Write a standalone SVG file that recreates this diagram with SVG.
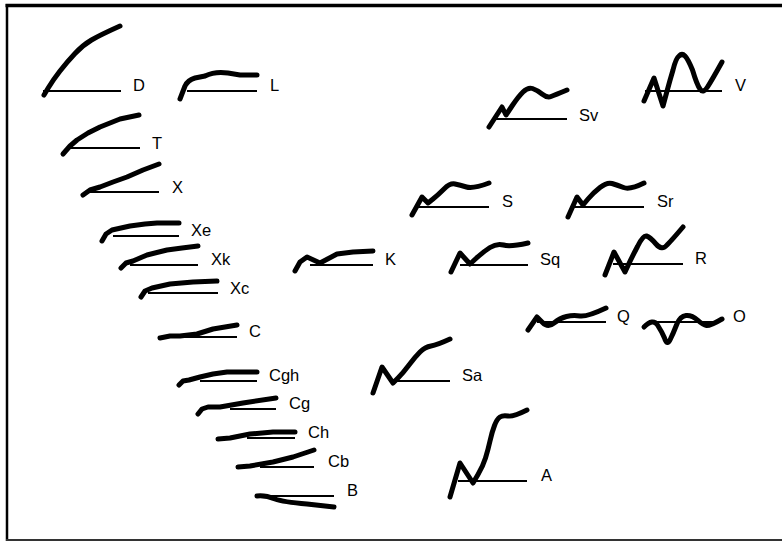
<svg xmlns="http://www.w3.org/2000/svg" width="782" height="541" viewBox="0 0 782 541">
<style>
.base{stroke:#000;stroke-width:2;fill:none}
.spec{stroke:#000;stroke-width:5;fill:none;stroke-linejoin:round;stroke-linecap:round}
.lbl{font-family:"Liberation Sans",Arial,sans-serif;font-size:16.5px;fill:#000}
</style>
<rect x="0" y="0" width="782" height="541" fill="#fff"/>
<g id="frame">
<line x1="5.5" y1="5.5" x2="782" y2="5.5" stroke="#000" stroke-width="3.5"/>
<line x1="7" y1="4" x2="7" y2="541" stroke="#000" stroke-width="2.5"/>
<line x1="6" y1="540" x2="782" y2="540" stroke="#333" stroke-width="2"/>
</g>
<g id="D"><line class="base" x1="43" y1="91" x2="121" y2="91"/><path class="spec" d="M44,95 L48.5,87.5 Q53,80 60,71 Q67,62 75,53.5 Q83,45 91.5,40 Q100,35 120,26"/><text class="lbl" x="133" y="91">D</text></g>
<g id="L"><line class="base" x1="187" y1="91" x2="257" y2="91"/><path class="spec" d="M180,99 L185,86 Q188,80 195,78 L205,76 Q215,71 228,73 L240,75 L257,75"/><text class="lbl" x="270" y="91">L</text></g>
<g id="T"><line class="base" x1="68" y1="148" x2="140" y2="148"/><polyline class="spec" points="63,154 70,146 77,140 88,133 100,127 120,119 139,115"/><text class="lbl" x="152" y="149">T</text></g>
<g id="X"><line class="base" x1="88" y1="192" x2="159" y2="192"/><polyline class="spec" points="83,195 90,190 100,187 113,182 127,177 143,170 159,164"/><text class="lbl" x="172" y="193">X</text></g>
<g id="Xe"><line class="base" x1="113" y1="236" x2="179" y2="236"/><polyline class="spec" points="102,241 106,234 112,230 130,226 145,224 157,223 179,223"/><text class="lbl" x="191" y="236">Xe</text></g>
<g id="Xk"><line class="base" x1="130" y1="265" x2="198" y2="265"/><polyline class="spec" points="121,268 126,263 133,261 147,255 167,250 182,248 198,246"/><text class="lbl" x="211" y="265">Xk</text></g>
<g id="Xc"><line class="base" x1="148" y1="293" x2="218" y2="293"/><polyline class="spec" points="141,297 145,291 152,288 170,284 193,282 217,281"/><text class="lbl" x="230" y="294">Xc</text></g>
<g id="C"><line class="base" x1="180" y1="337" x2="237" y2="337"/><polyline class="spec" points="160,338 170,336 180,336 197,334 213,329 237,325"/><text class="lbl" x="249" y="337">C</text></g>
<g id="Cgh"><line class="base" x1="200" y1="381" x2="257" y2="381"/><polyline class="spec" points="179,385 183,381 189,380 200,377 213,374 227,372 257,372"/><text class="lbl" x="269" y="381">Cgh</text></g>
<g id="Cg"><line class="base" x1="230" y1="409" x2="276" y2="409"/><polyline class="spec" points="198,414 202,409 208,407 220,407 243,403 276,398"/><text class="lbl" x="289" y="409">Cg</text></g>
<g id="Ch"><line class="base" x1="247" y1="438" x2="295" y2="438"/><polyline class="spec" points="218,439 230,438 250,434 273,432 295,432"/><text class="lbl" x="308" y="438">Ch</text></g>
<g id="Cb"><line class="base" x1="260" y1="467" x2="314" y2="467"/><polyline class="spec" points="238,467 250,466 273,462 293,457 314,450"/><text class="lbl" x="328" y="467">Cb</text></g>
<g id="B"><line class="base" x1="265" y1="496" x2="334" y2="496"/><path class="spec" d="M257,496 Q265,495 275,499 Q283,502 307,504 L334,507"/><text class="lbl" x="347" y="496">B</text></g>
<g id="K"><line class="base" x1="310" y1="265" x2="373" y2="265"/><polyline class="spec" points="295,271 300,262 307,257 320,263 337,254 353,252 373,251"/><text class="lbl" x="385" y="265">K</text></g>
<g id="Sa"><line class="base" x1="393" y1="381" x2="450" y2="381"/><path class="spec" d="M373,393 L382,367 L393,383 L398,378 Q403,373 409,365 Q415,357 420,352 Q425,347 431,346 Q437,345 450,339"/><text class="lbl" x="462" y="381">Sa</text></g>
<g id="A"><line class="base" x1="458" y1="481" x2="527" y2="481"/><path class="spec" d="M450,497 L460,463 L473,483 L478,474.5 Q483,466 485.5,458 Q488,450 490,441 Q492,432 494.5,425.5 Q497,419 500,417 Q503,415 508,416 Q513,417 527,410"/><text class="lbl" x="541" y="481">A</text></g>
<g id="Sv"><line class="base" x1="495" y1="119" x2="567" y2="119"/><path class="spec" d="M489,127 L502,107 L506,115 L512,106 Q518,97 523,92 Q528,87 532.5,88.5 Q537,90 542,94 Q547,98 551,96.5 Q555,95 567,90"/><text class="lbl" x="579" y="121">Sv</text></g>
<g id="V"><line class="base" x1="645" y1="91" x2="722" y2="91"/><path class="spec" d="M644,101 L654,78 L663,106 L666.5,93 Q670,80 673,70 Q676,58 679,56 Q682,53 685,56 Q688,59 692.5,70 Q697,85 700,89 Q703,94 707.5,87 Q712,80 722,62"/><text class="lbl" x="735" y="91">V</text></g>
<g id="S"><line class="base" x1="418" y1="207" x2="489" y2="207"/><path class="spec" d="M412,215 L422,197 L428,203 L433,199 Q438,195 444,189 Q450,183 455,184 Q460,185 466.5,187 Q473,189 489,183"/><text class="lbl" x="502" y="207">S</text></g>
<g id="Sr"><line class="base" x1="573" y1="207" x2="644" y2="207"/><path class="spec" d="M568,217 L577,197 L583,205 L588,199 Q593,193 600,187.5 Q607,182 612,183.5 Q617,185 623.5,187.5 Q630,190 644,183"/><text class="lbl" x="657" y="207">Sr</text></g>
<g id="Sq"><line class="base" x1="460" y1="265" x2="528" y2="265"/><path class="spec" d="M451,272 L460,253 L470,264 L476.5,258 Q483,252 490,247.5 Q497,243 503.5,245 Q510,247 528,243"/><text class="lbl" x="540" y="265">Sq</text></g>
<g id="R"><line class="base" x1="613" y1="264" x2="683" y2="264"/><path class="spec" d="M605,275 L614,252 L625,272 L628.5,264.5 Q632,257 637.5,246.5 Q643,235 646.5,236 Q650,237 656,244 Q662,251 667,245 Q672,240 683,227"/><text class="lbl" x="695" y="264">R</text></g>
<g id="Q"><line class="base" x1="537" y1="322" x2="606" y2="322"/><path class="spec" d="M528,330 L537,317 L542.5,322.5 Q548,328 554,323 Q560,318 566.5,316.5 Q573,315 580,316 Q587,317 606,308"/><text class="lbl" x="617" y="322">Q</text></g>
<g id="O"><line class="base" x1="650" y1="322" x2="713" y2="322"/><path class="spec" d="M644,327 Q653,318 657.5,325 Q662,332 664.5,338 Q667,346 670,340 Q673,334 676.5,325 Q680,316 686,315.5 Q692,315 697.5,320 Q703,325 706.5,325.5 Q710,326 722,319"/><text class="lbl" x="733" y="322">O</text></g>
<g id="connectors"></g>
</svg>
